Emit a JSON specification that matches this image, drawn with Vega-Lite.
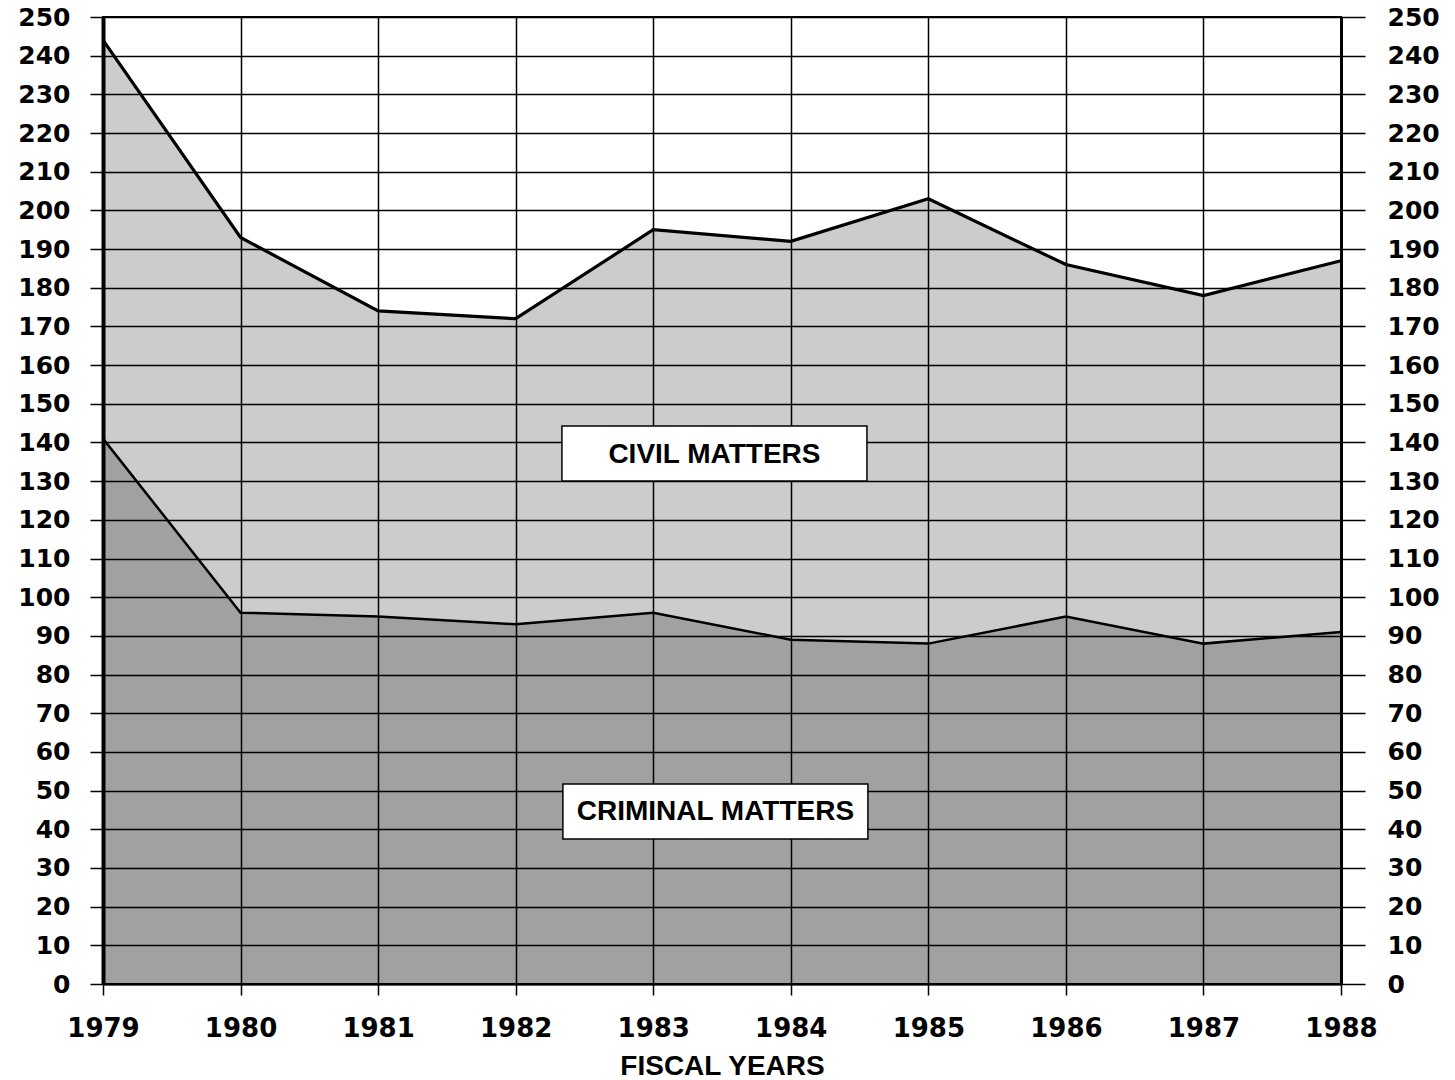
{
  "$schema": "https://vega.github.io/schema/vega-lite/v6.json",
  "width": 1238,
  "height": 967,
  "autosize": {"type": "none"},
  "padding": {"left": 103, "top": 17, "right": 114, "bottom": 96},
  "background": "white",
  "config": {
    "view": {"stroke": "black", "strokeWidth": 2},
    "axis": {
      "gridColor": "black", "gridWidth": 1.5, "gridOpacity": 1,
      "domainColor": "black", "domainWidth": 2,
      "tickColor": "black", "tickWidth": 1.5,
      "labelColor": "black", "labelFont": "DejaVu Sans", "labelFontWeight": "bold",
      "titleColor": "black"
    }
  },
  "datasets": {
    "cases": [
      {"year": 1979, "category": "Criminal", "count": 141},
      {"year": 1980, "category": "Criminal", "count": 96},
      {"year": 1981, "category": "Criminal", "count": 95},
      {"year": 1982, "category": "Criminal", "count": 93},
      {"year": 1983, "category": "Criminal", "count": 96},
      {"year": 1984, "category": "Criminal", "count": 89},
      {"year": 1985, "category": "Criminal", "count": 88},
      {"year": 1986, "category": "Criminal", "count": 95},
      {"year": 1987, "category": "Criminal", "count": 88},
      {"year": 1988, "category": "Criminal", "count": 91},
      {"year": 1979, "category": "Civil", "count": 103},
      {"year": 1980, "category": "Civil", "count": 97},
      {"year": 1981, "category": "Civil", "count": 79},
      {"year": 1982, "category": "Civil", "count": 79},
      {"year": 1983, "category": "Civil", "count": 99},
      {"year": 1984, "category": "Civil", "count": 103},
      {"year": 1985, "category": "Civil", "count": 115},
      {"year": 1986, "category": "Civil", "count": 91},
      {"year": 1987, "category": "Civil", "count": 90},
      {"year": 1988, "category": "Civil", "count": 96}
    ],
    "labels": [
      {"label": "CIVIL MATTERS", "year": 1983.445, "count": 137.15},
      {"label": "CRIMINAL MATTERS", "year": 1983.452, "count": 44.6}
    ]
  },
  "layer": [
    {
      "data": {"name": "cases"},
      "mark": {"type": "area", "fill": "black"},
      "encoding": {
        "x": {
          "field": "year", "type": "quantitative",
          "scale": {"domain": [1979, 1988], "nice": false, "zero": false},
          "axis": {
            "values": [1979, 1980, 1981, 1982, 1983, 1984, 1985, 1986, 1987, 1988],
            "format": "d", "grid": true, "tickSize": 11, "labelFlush": false,
            "labelFontSize": 26, "labelPadding": 20,
            "title": "FISCAL YEARS", "titleFont": "Liberation Sans", "titleFontWeight": "bold",
            "titleFontSize": 28, "titlePadding": 11
          }
        },
        "y": {
          "field": "count", "type": "quantitative", "stack": "zero",
          "scale": {"domain": [0, 250], "nice": false},
          "axis": {
            "orient": "left", "title": null,
            "values": [0,10,20,30,40,50,60,70,80,90,100,110,120,130,140,150,160,170,180,190,200,210,220,230,240,250],
            "grid": true, "tickSize": 13, "labelPadding": 20, "labelFontSize": 25,
            "domainWidth": 4
          }
        },
        "order": {"field": "category", "sort": "descending"},
        "fillOpacity": {
          "field": "category", "type": "nominal",
          "scale": {"domain": ["Criminal", "Civil"], "range": [0.37, 0.2]},
          "legend": null
        }
      }
    },
    {
      "data": {"name": "cases"},
      "mark": {"type": "line", "color": "black"},
      "encoding": {
        "x": {"field": "year", "type": "quantitative"},
        "y": {
          "field": "count", "type": "quantitative", "stack": "zero",
          "axis": {
            "orient": "right", "title": null,
            "values": [0,10,20,30,40,50,60,70,80,90,100,110,120,130,140,150,160,170,180,190,200,210,220,230,240,250],
            "grid": false, "tickSize": 24, "labelPadding": 22, "labelFontSize": 25,
            "labelAlign": "left", "domainWidth": 3
          }
        },
        "order": {"field": "category", "sort": "descending"},
        "detail": {"field": "category", "type": "nominal"},
        "strokeWidth": {
          "field": "category", "type": "nominal",
          "scale": {"domain": ["Criminal", "Civil"], "range": [2.5, 3.2]},
          "legend": null
        }
      }
    },
    {
      "data": {"name": "labels"},
      "mark": {"type": "rect", "width": 305, "height": 55, "fill": "white", "stroke": "black", "strokeWidth": 1.5},
      "encoding": {
        "x": {"field": "year", "type": "quantitative"},
        "y": {"field": "count", "type": "quantitative", "axis": null}
      }
    },
    {
      "data": {"name": "labels"},
      "mark": {"type": "text", "font": "Liberation Sans", "fontWeight": "bold", "fontSize": 28, "color": "black", "align": "center", "baseline": "middle", "dy": 1},
      "encoding": {
        "x": {"field": "year", "type": "quantitative"},
        "y": {"field": "count", "type": "quantitative", "axis": null},
        "text": {"field": "label"}
      }
    }
  ],
  "resolve": {"axis": {"y": "independent"}}
}
